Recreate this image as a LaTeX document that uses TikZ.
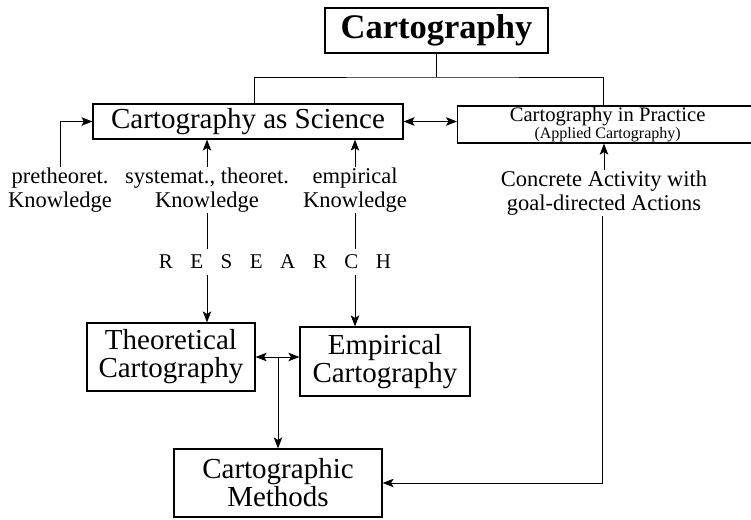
\documentclass[tikz,border=0pt]{standalone}
\usepackage{fontspec}
\setmainfont{Liberation Serif}
\usepackage{tikz}
\usetikzlibrary{shapes,arrows,positioning,calc,arrows.meta}

\newcommand{\resgap}{\hspace{17.5pt}}

\begin{document}
\begin{tikzpicture}[
        x=1pt, y=-1pt,
        box/.style={
            rectangle, draw=black, line width=1.2pt,
            font=\fontsize{29}{28}\selectfont, align=center,
            inner sep=0pt
          },
        note/.style={
            font=\fontsize{22.5}{24}\selectfont, align=center,
            inner sep=1pt
          },
        link/.style={line width=1pt},
        oneway/.style={link, -{Stealth[length=11pt,width=8.5pt,inset=2.5pt]}},
        twoway/.style={link, {Stealth[length=11pt,width=8.5pt,inset=2.5pt]}-{Stealth[length=11pt,width=8.5pt,inset=2.5pt]}},
      ]
      \useasboundingbox (0,0) rectangle (751,519);

      % Top of the tree
      \node [box, minimum width=223pt, minimum height=45pt,
             font=\fontsize{34.5}{36}\selectfont\bfseries] (title) at (436.5,30.5) {Cartography};

      % Second level
      \node [box, minimum width=310pt, minimum height=35pt] (sci) at (248,121.5) {Cartography as Science};
      \node [box, minimum width=300pt, minimum height=37pt, anchor=west,
             font=\fontsize{20.6}{17}\selectfont] (prac) at (457,124.5)
            {Cartography in Practice\\{\fontsize{16}{16}\selectfont(Applied Cartography)}};

      % Knowledge labels
      \node [note] (pretxt) at (60,190) {pretheoret.\\Knowledge};
      \node [note] (systxt) at (207,190) {systemat., theoret.\\Knowledge};
      \node [note] (emptxt) at (355,190) {empirical\\Knowledge};
      \node [note] (contxt) at (604,193) {Concrete Activity with\\goal-directed Actions};

      \node [font=\fontsize{21}{21}\selectfont, minimum height=25pt, inner sep=0pt] (research) at (275,262)
            {R\resgap E\resgap S\resgap E\resgap A\resgap R\resgap C\resgap H};

      % Lower boxes
      \node [box, minimum width=168pt, minimum height=68pt] (theo) at (171,357) {Theoretical\\Cartography};
      \node [box, minimum width=170pt, minimum height=69pt] (emp) at (385,361.5) {Empirical\\Cartography};
      \node [box, minimum width=208pt, minimum height=68pt] (meth) at (278,483) {Cartographic\\Methods};

      % Tree lines
      \draw [link] (title.south) -- (title.south |- 0,77) coordinate (split);
      \draw [link] ([xshift=6pt]sci.north) |- (split) -| ([xshift=-4pt]prac.north);

      % Relationships
      \draw [twoway] (sci.east) -- (sci.east -| prac.west);
      \draw [oneway] (pretxt.north) |- (sci.west);
      \draw [oneway] (systxt.north) -- (systxt.north |- sci.south);
      \draw [oneway] (emptxt.north) -- (emptxt.north |- sci.south);
      \draw [oneway] (contxt.north) -- (contxt.north |- prac.south);

      \draw [link] (systxt.south) -- (systxt.south |- research.north);
      \draw [link] (emptxt.south) -- (emptxt.south |- research.north);
      \draw [oneway] (research.south -| systxt.south) -- (systxt.south |- theo.north);
      \draw [oneway] (research.south -| emptxt.south) -- (emptxt.south |- emp.north);

      \draw [twoway] (theo.east) -- (theo.east -| emp.west);
      \draw [oneway] (theo.east -| meth.north) -- (meth.north);
      \draw [oneway] ([xshift=-2pt]contxt.south) |- (meth.east);
    \end{tikzpicture}
\end{document}
